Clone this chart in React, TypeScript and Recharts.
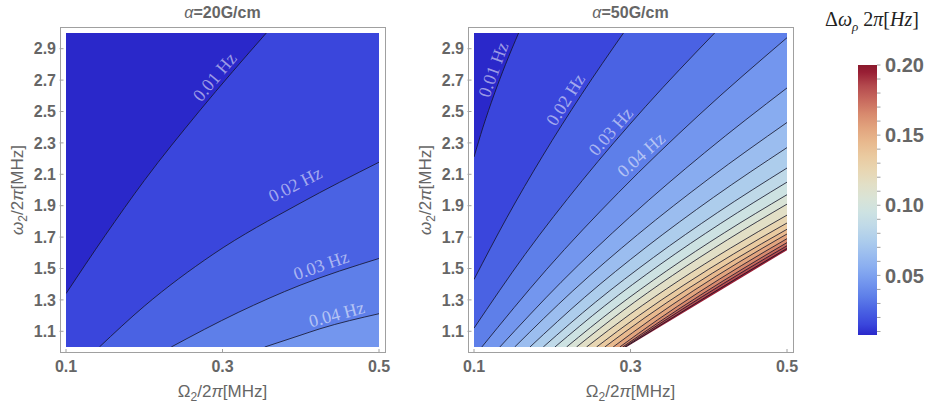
import React from "react";
import {
  ComposedChart,
  Area,
  XAxis,
  YAxis,
  CartesianGrid,
  ReferenceDot,
  BarChart,
  Bar,
} from "recharts";

// ---- data ---------------------------------------------------------------

const X_TICKS = [0.1, 0.3, 0.5];
const Y_TICKS = [1.1, 1.3, 1.5, 1.7, 1.9, 2.1, 2.3, 2.5, 2.7, 2.9];
const CB_TICKS = [
  0.01, 0.02, 0.03, 0.04, 0.05, 0.06, 0.07, 0.08, 0.09, 0.1, 0.11, 0.12, 0.13,
  0.14, 0.15, 0.16, 0.17, 0.18, 0.19, 0.2,
];
const CB_LABELS = [0.05, 0.1, 0.15, 0.2];
const CB_RANGE = [0.0075, 0.2];

// alpha = 20 G/cm, contour lines as [Omega2/2pi, omega2/2pi]
const LEFT_LEVELS = [0.01, 0.02, 0.03, 0.04];
const left01 = [[0.1, 1.34], [0.15, 1.71], [0.2, 2.06], [0.27, 2.5], [0.356, 3.0]];
const left02 = [[0.1427, 1.0], [0.2, 1.26], [0.2878, 1.59], [0.399, 1.915], [0.5, 2.177]];
const left03 = [[0.2345, 1.0], [0.32, 1.22], [0.399, 1.393], [0.5, 1.564]];
const left04 = [[0.354, 1.0], [0.399, 1.074], [0.4245, 1.116], [0.5, 1.212]];

// alpha = 50 G/cm
const RIGHT_LEVELS = [
  0.01, 0.02, 0.03, 0.04, 0.05, 0.06, 0.07, 0.08, 0.09, 0.1, 0.11, 0.12, 0.13,
  0.14, 0.15, 0.16, 0.17, 0.18, 0.19,
];
const right01 = [[0.1, 2.21], [0.1115, 2.4], [0.1255, 2.605], [0.1403, 2.8], [0.157, 3.0]];
const right02 = [[0.1, 1.43], [0.1418, 1.8225], [0.1875, 2.215], [0.2373, 2.6075], [0.291, 3.0]];
const right03 = [[0.1, 1.12], [0.1653, 1.59], [0.2383, 2.06], [0.319, 2.53], [0.4075, 3.0]];
const right04 = [[0.11, 1], [0.1925, 1.4925], [0.285, 1.985], [0.3875, 2.4775], [0.5, 2.97]];
const right05 = [[0.133, 1], [0.2113, 1.4125], [0.2985, 1.825], [0.3948, 2.2375], [0.5, 2.65]];
const right06 = [[0.152, 1], [0.2263, 1.3575], [0.309, 1.715], [0.4003, 2.0725], [0.5, 2.43]];
const right07 = [[0.1715, 1], [0.2416, 1.3175], [0.3198, 1.635], [0.4059, 1.9525], [0.5, 2.27]];
const right08 = [[0.1885, 1], [0.2551, 1.285], [0.3293, 1.57], [0.4109, 1.855], [0.5, 2.14]];
const right09 = [[0.2034, 1], [0.2671, 1.2625], [0.3377, 1.525], [0.4154, 1.7875], [0.5, 2.05]];
const right10 = [[0.2183, 1], [0.279, 1.2425], [0.3462, 1.485], [0.4199, 1.7275], [0.5, 1.97]];
const right11 = [[0.231, 1], [0.2893, 1.2275], [0.3535, 1.455], [0.4238, 1.6825], [0.5, 1.91]];
const right12 = [[0.2438, 1], [0.2997, 1.21], [0.3609, 1.42], [0.4278, 1.63], [0.5, 1.84]];
const right13 = [[0.2566, 1], [0.31, 1.1975], [0.3683, 1.395], [0.4317, 1.5925], [0.5, 1.79]];
const right14 = [[0.2671, 1], [0.3186, 1.1875], [0.3746, 1.375], [0.4351, 1.5625], [0.5, 1.75]];
const right15 = [[0.2778, 1], [0.3274, 1.18], [0.3809, 1.36], [0.4385, 1.54], [0.5, 1.72]];
const right16 = [[0.2863, 1], [0.3345, 1.1725], [0.3862, 1.345], [0.4414, 1.5175], [0.5, 1.69]];
const right17 = [[0.29, 1], [0.3388, 1.1663], [0.39, 1.3325], [0.4438, 1.4988], [0.5, 1.665]];
const right18 = [[0.2925, 1], [0.3414, 1.1613], [0.3923, 1.3225], [0.4451, 1.4838], [0.5, 1.645]];
const right19 = [[0.294, 1], [0.344, 1.157], [0.395, 1.314], [0.447, 1.471], [0.5, 1.628]];
// 0.20 Hz: beyond the plot range, left white
const rightCut = [[0.295, 1], [0.5, 1.617]];

// contour label anchors
const LEFT_LABELS = [
  { level: 0.01, x: 0.29, y: 2.72, angle: 50 },
  { level: 0.02, x: 0.393, y: 2.035, angle: 27 },
  { level: 0.03, x: 0.426, y: 1.52, angle: 19 },
  { level: 0.04, x: 0.446, y: 1.208, angle: 15 },
];
const RIGHT_LABELS = [
  { level: 0.01, x: 0.1247, y: 2.767, angle: 70 },
  { level: 0.02, x: 0.2171, y: 2.575, angle: 58 },
  { level: 0.03, x: 0.2747, y: 2.3725, angle: 49 },
  { level: 0.04, x: 0.3137, y: 2.224, angle: 42 },
];

// ---- styles -------------------------------------------------------------

const SANS = '"Liberation Sans", Arial, sans-serif';
const SERIF = '"Liberation Serif", "Times New Roman", serif';
const GRAY = "#666";
const FRAME = "#a0a0a0";
const LINE = "rgba(20,20,40,0.8)";
const H = 406;
const PLOT_TOP = 33;
const PLOT_BOTTOM = 347;

const THERMO_STOPS: [number, string][] = [
  [0.0075, "#2a28ca"],
  [0.015, "#3a46dc"],
  [0.025, "#4a62e3"],
  [0.035, "#5e7fe9"],
  [0.045, "#7396ee"],
  [0.055, "#88acf0"],
  [0.065, "#9bbdef"],
  [0.075, "#adcdec"],
  [0.085, "#bfd9e8"],
  [0.095, "#cde2e2"],
  [0.105, "#d9e3d6"],
  [0.115, "#e2dfc6"],
  [0.125, "#e8d6b2"],
  [0.135, "#eacaa0"],
  [0.145, "#e8b98e"],
  [0.155, "#e2a47e"],
  [0.165, "#d88a6e"],
  [0.175, "#c86a5e"],
  [0.185, "#b44a4e"],
  [0.195, "#981e34"],
  [0.2, "#8a1a2c"],
];

const rgb = (h: string) => [1, 3, 5].map((i) => parseInt(h.slice(i, i + 2), 16));

function thermo(v: number): string {
  const s = THERMO_STOPS;
  if (v <= s[0][0]) return s[0][1];
  for (let i = 1; i < s.length; i++) {
    if (v <= s[i][0]) {
      const t = (v - s[i - 1][0]) / (s[i][0] - s[i - 1][0]);
      const a = rgb(s[i - 1][1]);
      const b = rgb(s[i][1]);
      return `rgb(${a.map((c, k) => Math.round(c + (b[k] - c) * t)).join(",")})`;
    }
  }
  return s[s.length - 1][1];
}

const pts = (arr: number[][]) => arr.map(([x, y]) => ({ x, y }));

type Fill = { data: { x: number; y: number }[]; base: number; color: string; stroke: boolean };

// region above a line that leaves through the top edge -> fill up to 3,
// region below a line that enters from the bottom edge -> fill down to 1
const up = (line: number[][], level: number): Fill => ({
  data: pts(line),
  base: 3,
  color: thermo(level - 0.005),
  stroke: true,
});
const down = (line: number[][], level: number): Fill => ({
  data: pts(line),
  base: 1,
  color: thermo(level + 0.005),
  stroke: true,
});

const leftFills: Fill[] = [
  up(left01, LEFT_LEVELS[0]),
  down(left02, LEFT_LEVELS[1]),
  down(left03, LEFT_LEVELS[2]),
  down(left04, LEFT_LEVELS[3]),
];

const rightDownLines = [
  right04, right05, right06, right07, right08, right09, right10, right11,
  right12, right13, right14, right15, right16, right17, right18, right19,
];
const rightFills: Fill[] = [
  up(right03, RIGHT_LEVELS[2]),
  up(right02, RIGHT_LEVELS[1]),
  up(right01, RIGHT_LEVELS[0]),
  ...rightDownLines.map((l, i) => down(l, RIGHT_LEVELS[i + 3])),
  { data: pts(rightCut), base: 1, color: "#ffffff", stroke: false },
];

// ---- ticks --------------------------------------------------------------

const XTick = (p: any) => (
  <g>
    <line x1={p.x} x2={p.x} y1={p.y + 6} y2={p.y + 2} stroke={FRAME} />
    <text x={p.x} y={p.y + 25} textAnchor="middle" fontFamily={SANS} fontSize={16} fontWeight="bold" fill={GRAY}>
      {Number(p.payload.value).toFixed(1)}
    </text>
  </g>
);

const YTick = (p: any) => (
  <g>
    <line x1={p.x - 6.5} x2={p.x - 2.5} y1={p.y} y2={p.y} stroke={FRAME} />
    <text x={p.x - 10} y={p.y} dy="0.36em" textAnchor="end" fontFamily={SANS} fontSize={16} fontWeight="bold" fill={GRAY}>
      {Number(p.payload.value).toFixed(1)}
    </text>
  </g>
);

const CbTick = (p: any) => {
  const v = Number(p.payload.value);
  const major = CB_LABELS.some((m) => Math.abs(m - v) < 1e-6);
  return (
    <g>
      <line x1={p.x} x2={p.x + 3.5} y1={p.y} y2={p.y} stroke={FRAME} />
      {major && (
        <text x={p.x + 8} y={p.y} dy="0.36em" fontFamily={SANS} fontSize={20} fontWeight="bold" fill={GRAY}>
          {v.toFixed(2)}
        </text>
      )}
    </g>
  );
};

// ---- components ---------------------------------------------------------

const centered = (cx: number, cy: number, extra = ""): React.CSSProperties => ({
  position: "absolute",
  left: cx,
  top: cy,
  transform: `translate(-50%, -50%) ${extra}`,
  whiteSpace: "nowrap",
});

interface PanelProps {
  plotLeft: number;
  plotRight: number;
  alpha: string;
  background: string;
  fills: Fill[];
  labels: { level: number; x: number; y: number; angle: number }[];
}

const ContourPanel: React.FC<PanelProps> = ({ plotLeft, plotRight, alpha, background, fills, labels }) => {
  const chartLeft = plotLeft - 70;
  const width = plotRight - chartLeft + 20;
  const mid = (plotLeft + plotRight) / 2;
  const frameLeft = Math.round(plotLeft - 6.5);
  return (
    <>
      <div
        style={{
          position: "absolute",
          left: frameLeft,
          top: 27,
          width: 326,
          height: 326,
          boxSizing: "border-box",
          border: `1px solid ${FRAME}`,
        }}
      />
      <div style={{ position: "absolute", left: chartLeft, top: 0 }}>
        <ComposedChart
          width={width}
          height={H}
          margin={{ top: PLOT_TOP, right: 20, bottom: H - PLOT_BOTTOM - 30, left: 10 }}
        >
          <CartesianGrid horizontal={false} vertical={false} fill={background} stroke="none" />
          <XAxis
            type="number"
            dataKey="x"
            domain={[0.1, 0.5]}
            ticks={X_TICKS}
            interval={0}
            allowDataOverflow
            height={30}
            axisLine={false}
            tickLine={false}
            tickSize={0}
            tickMargin={0}
            tick={XTick}
          />
          <YAxis
            type="number"
            domain={[1, 3]}
            ticks={Y_TICKS}
            interval={0}
            allowDataOverflow
            width={60}
            axisLine={false}
            tickLine={false}
            tickSize={0}
            tickMargin={0}
            tick={YTick}
          />
          {fills.map((f, i) => (
            <Area
              key={i}
              data={f.data}
              dataKey="y"
              type="monotone"
              baseValue={f.base}
              fill={f.color}
              fillOpacity={1}
              stroke={f.stroke ? LINE : "none"}
              strokeWidth={1}
              dot={false}
              activeDot={false}
              isAnimationActive={false}
            />
          ))}
          {labels.map((l) => (
            <ReferenceDot
              key={l.level}
              x={l.x}
              y={l.y}
              r={0}
              shape={(p: any) => (
                <text
                  x={p.cx}
                  y={p.cy}
                  transform={`rotate(${-l.angle} ${p.cx} ${p.cy})`}
                  textAnchor="middle"
                  dominantBaseline="central"
                  fontFamily={SERIF}
                  fontSize={18}
                  fill="rgba(255,255,255,0.55)"
                >
                  {`${l.level.toFixed(2)} Hz`}
                </text>
              )}
            />
          ))}
        </ComposedChart>
      </div>
      <div style={{ ...centered(mid, 13), fontFamily: SANS, fontSize: 16, fontWeight: "bold", color: GRAY }}>
        <i style={{ fontWeight: "normal" }}>α</i>={alpha}G/cm
      </div>
      <div style={{ ...centered(mid, 393), fontFamily: SANS, fontSize: 17, color: GRAY }}>
        Ω<sub style={{ fontSize: 12 }}>2</sub>/2<i>π</i>[MHz]
      </div>
      <div style={{ ...centered(plotLeft - 47, 190, "rotate(-90deg)"), fontFamily: SANS, fontSize: 17, color: GRAY }}>
        <i>ω</i>
        <sub style={{ fontSize: 12 }}>2</sub>/2<i>π</i>[MHz]
      </div>
    </>
  );
};

const CB_DATA = [{ name: "scale", range: CB_RANGE }];

const ColorBar: React.FC = () => (
  <>
    <div style={{ position: "absolute", left: 820, top: 0 }}>
      <BarChart
        width={110}
        height={H}
        data={CB_DATA}
        margin={{ top: 65, bottom: 71, left: 38, right: 3 }}
        barCategoryGap={0}
      >
        <defs>
          <linearGradient id="thermoGrad" x1="0" y1="1" x2="0" y2="0">
            {THERMO_STOPS.map(([v, c]) => (
              <stop key={v} offset={(v - CB_RANGE[0]) / (CB_RANGE[1] - CB_RANGE[0])} stopColor={c} />
            ))}
          </linearGradient>
        </defs>
        <XAxis dataKey="name" hide />
        <YAxis
          orientation="right"
          type="number"
          domain={CB_RANGE}
          ticks={CB_TICKS}
          interval={0}
          allowDataOverflow
          width={50}
          axisLine={false}
          tickLine={false}
          tickSize={0}
          tickMargin={0}
          tick={CbTick}
        />
        <Bar dataKey="range" fill="url(#thermoGrad)" isAnimationActive={false} />
      </BarChart>
    </div>
    <div style={{ ...centered(872, 21), fontFamily: SERIF, fontSize: 20, color: "#222" }}>
      Δ<i>ω</i>
      <sub style={{ fontSize: 13 }}>
        <i>ρ</i>
      </sub>{" "}
      2<i>π</i>[<i>Hz</i>]
    </div>
  </>
);

export default function App() {
  return (
    <div style={{ position: "absolute", left: 0, top: 0, width: 930, height: H, background: "#fff" }}>
      <ContourPanel
        plotLeft={66}
        plotRight={379}
        alpha="20"
        background={thermo(0.015)}
        fills={leftFills}
        labels={LEFT_LABELS}
      />
      <ContourPanel
        plotLeft={474}
        plotRight={787}
        alpha="50"
        background={thermo(0.035)}
        fills={rightFills}
        labels={RIGHT_LABELS}
      />
      <ColorBar />
    </div>
  );
}
